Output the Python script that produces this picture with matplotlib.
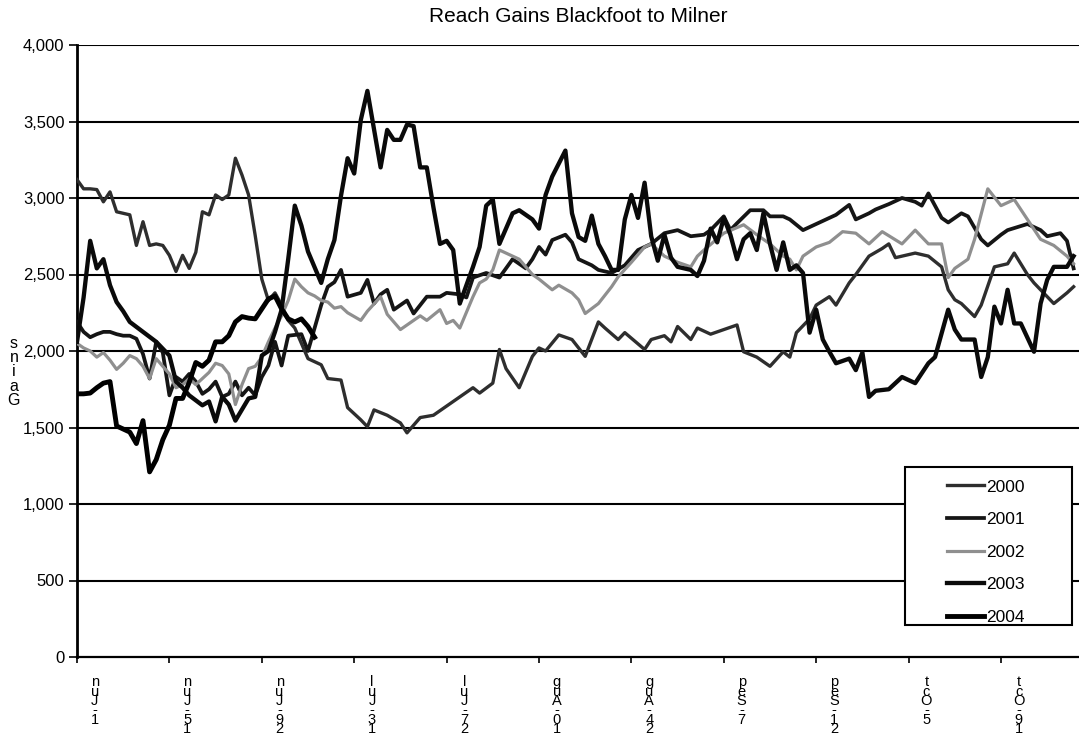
import matplotlib
matplotlib.use("Agg")
import matplotlib.pyplot as plt
from matplotlib.patches import Rectangle
import matplotlib.transforms as mtransforms

plt.rcParams['font.family'] = ['Liberation Sans', 'DejaVu Sans']

TITLE = "Reach Gains Blackfoot to Milner"
YLABEL = "Gains"
tick_days = [0, 14, 28, 42, 56, 70, 84, 98, 112, 126, 140]
tick_labels = ["1-Jun", "15-Jun", "29-Jun", "13-Jul", "27-Jul", "10-Aug",
               "24-Aug", "7-Sep", "21-Sep", "5-Oct", "19-Oct"]
y_ticks = [0, 500, 1000, 1500, 2000, 2500, 3000, 3500, 4000]

# day index from June 1 and values
days_2000 = [0,1,2,3,4,5,6,7,8,9,10,11,12,13,14,15,16,17,18,19,20,21,22,23,24,25,26,27,28,29,30,31,32,33,34,35,36,37,38,40,41,43,44,45,47,49,50,52,54,56,58,60,61,63,64,65,67,69,70,71,73,75,77,79,80,82,83,86,87,89,90,91,93,94,96,98,100,101,103,105,107,108,109,111,112,114,115,117,118,120,122,123,124,127,129,131,132,133,134,136,137,139,141,142,144,145,146,148,150,151]
vals_2000 = [3120,3060,3060,3055,2975,3040,2910,2900,2890,2690,2845,2690,2700,2690,2625,2520,2625,2540,2645,2910,2890,3020,2990,3020,3260,3150,3020,2755,2470,2330,2380,2300,2200,2150,2050,1950,1930,1910,1820,1810,1630,1550,1505,1615,1580,1530,1465,1565,1580,1640,1700,1760,1725,1790,2010,1885,1760,1965,2020,2000,2105,2075,1965,2190,2150,2075,2120,2010,2075,2100,2060,2160,2075,2150,2110,2140,2170,1995,1960,1900,1995,1960,2120,2210,2300,2355,2300,2445,2500,2620,2670,2700,2610,2640,2620,2550,2400,2335,2310,2225,2300,2550,2570,2640,2500,2445,2400,2310,2380,2420]

days_2001 = [0,1,2,3,4,5,6,7,8,9,10,11,12,13,14,15,16,17,18,19,20,21,22,23,24,25,26,27,28,29,30,31,32,34,35,36,37,38,39,40,41,43,44,45,46,47,48,50,51,53,55,56,58,59,60,62,64,65,66,68,69,70,71,72,74,75,76,78,79,81,83,85,87,89,91,93,95,96,98,99,100,102,104,105,107,108,110,111,113,115,117,118,120,121,123,125,127,128,129,131,132,134,135,137,138,140,141,144,146,147,149,150,151]
vals_2001 = [2190,2125,2090,2110,2125,2125,2110,2100,2100,2080,1980,1820,2060,1990,1710,1830,1800,1850,1800,1720,1750,1800,1700,1720,1800,1710,1760,1710,1830,1905,2060,1905,2100,2110,2000,2150,2300,2420,2450,2530,2355,2380,2465,2310,2370,2400,2270,2330,2245,2355,2355,2380,2370,2350,2480,2510,2480,2540,2600,2540,2600,2680,2630,2725,2760,2710,2600,2560,2530,2510,2560,2660,2700,2770,2790,2750,2760,2790,2880,2790,2835,2920,2920,2880,2880,2860,2790,2810,2850,2890,2955,2860,2900,2925,2960,3000,2975,2950,3030,2870,2840,2900,2880,2730,2690,2760,2790,2830,2790,2750,2770,2720,2540]

days_2002 = [0,1,2,3,4,5,6,7,8,9,10,11,12,13,14,15,16,17,18,19,20,21,22,23,24,25,26,27,28,29,30,31,32,33,34,35,36,37,38,39,40,41,43,44,46,47,48,49,51,52,53,55,56,57,58,60,61,62,63,64,66,67,68,69,70,72,73,75,76,77,79,81,82,84,86,87,89,91,93,94,95,98,101,103,105,107,108,109,110,112,114,116,118,120,122,125,127,129,131,132,133,135,136,138,140,142,144,146,148,150,151]
vals_2002 = [2050,2020,2000,1960,1990,1940,1880,1920,1970,1950,1900,1820,1950,1900,1850,1760,1780,1820,1780,1820,1860,1920,1905,1850,1650,1780,1885,1900,1960,2060,2150,2230,2330,2470,2420,2380,2360,2330,2320,2280,2290,2250,2200,2260,2355,2240,2190,2140,2200,2230,2200,2270,2180,2200,2150,2355,2445,2470,2530,2660,2620,2600,2550,2500,2470,2400,2430,2380,2335,2245,2310,2420,2485,2580,2680,2700,2620,2580,2550,2620,2660,2770,2825,2760,2700,2620,2600,2530,2620,2680,2710,2780,2770,2700,2780,2700,2790,2700,2700,2480,2540,2600,2730,3060,2950,2990,2860,2730,2690,2620,2570]

days_2003 = [0,1,2,3,4,5,6,7,8,10,12,14,15,16,17,19,20,21,22,23,24,26,27,28,29,30,31,32,33,34,35,37,38,39,40,41,42,43,44,46,47,48,49,50,51,52,53,54,55,56,57,58,60,61,62,63,64,66,67,69,70,71,72,74,75,76,77,78,79,80,81,82,83,84,85,86,87,88,89,90,91,93,94,95,96,97,98,99,100,101,102,103,104,105,106,107,108,109,110,111,112,113,114,115,117,118,119,120,121,123,125,127,129,130,132,133,134,136,137,138,139,140,141,142,143,145,146,147,148,150,151]
vals_2003 = [2060,2350,2720,2540,2600,2430,2320,2260,2190,2125,2060,1970,1800,1760,1710,1645,1670,1540,1700,1650,1545,1690,1700,1970,2000,2125,2270,2600,2950,2820,2650,2445,2600,2725,3015,3260,3160,3510,3700,3200,3445,3380,3380,3480,3470,3200,3200,2940,2700,2720,2660,2310,2550,2680,2950,2990,2700,2900,2920,2860,2800,3020,3140,3310,2900,2745,2720,2885,2700,2620,2530,2530,2860,3020,2870,3100,2750,2590,2760,2610,2550,2530,2490,2590,2800,2710,2870,2760,2600,2730,2770,2660,2900,2700,2530,2710,2530,2560,2510,2120,2270,2075,1995,1920,1950,1875,1990,1700,1740,1750,1830,1790,1920,1960,2270,2140,2075,2075,1830,1960,2290,2180,2400,2180,2180,1995,2310,2465,2550,2550,2620]

days_2004 = [0,1,2,3,4,5,6,7,8,9,10,11,12,13,14,15,16,17,18,19,20,21,22,23,24,25,26,27,28,29,30,31,32,33,34,35,36]
vals_2004 = [1720,1720,1725,1760,1790,1800,1510,1490,1470,1395,1545,1210,1290,1420,1515,1690,1690,1795,1925,1900,1940,2060,2060,2100,2190,2225,2215,2210,2275,2340,2360,2275,2210,2190,2210,2160,2090]

series = [
    ("2000", days_2000, vals_2000, "#2e2e2e", 2.4),
    ("2001", days_2001, vals_2001, "#151515", 2.7),
    ("2002", days_2002, vals_2002, "#8f8f8f", 2.3),
    ("2003", days_2003, vals_2003, "#0a0a0a", 3.1),
    ("2004", days_2004, vals_2004, "#000000", 3.5),
]

W, H = 1079, 738
fig = plt.figure(figsize=(W / 100, H / 100), dpi=100)
ax_l, ax_r, ax_t, ax_b = 77, 1079, 45, 657
ax = fig.add_axes([ax_l / W, 1 - ax_b / H, (ax_r - ax_l) / W, (ax_b - ax_t) / H])

px_per_day = 6.6
ax.set_xlim(0, (ax_r - ax_l) / px_per_day)
ax.set_ylim(0, 4000)

for v in y_ticks[1:]:
    ax.axhline(v, color="black", lw=1.5, zorder=1)

handles = []
for name, d, v, c, lw in series:
    h, = ax.plot(d, v, color=c, lw=lw, solid_joinstyle="round", zorder=3, label=name)
    handles.append(h)

ax.set_yticks(y_ticks)
ax.set_yticklabels([f"{t:,}" for t in y_ticks], fontsize=12)
ax.tick_params(axis="y", length=6, width=1.2, pad=3, direction="out")
ax.set_xticks(tick_days)
ax.set_xticklabels([])
ax.tick_params(axis="x", length=4, width=1.2, direction="out")

for s in ["top", "right"]:
    ax.spines[s].set_visible(False)
ax.spines["left"].set_linewidth(2.0)
ax.spines["bottom"].set_linewidth(1.6)

trans = mtransforms.blended_transform_factory(ax.transData, ax.transAxes)
for d, lab in zip(tick_days, tick_labels):
    ax.text(d + 2.7, -0.030, "\n".join(reversed(lab)), transform=trans,
            ha="center", va="top", fontsize=10.5, linespacing=0.58)

fig.text(14 / W, 1 - 372 / H, "\n".join(reversed(YLABEL)), ha="center", va="center",
         fontsize=11.5, linespacing=0.92)

fig.text(578 / W, 1 - 17 / H, TITLE, ha="center", va="center", fontsize=15)

# legend box
bx0, bx1, by0, by1 = 905, 1072, 467, 625
rect = Rectangle(((bx0 - ax_l) / (ax_r - ax_l), (ax_b - by1) / (ax_b - ax_t)),
                 (bx1 - bx0) / (ax_r - ax_l), (by1 - by0) / (ax_b - ax_t),
                 transform=ax.transAxes, facecolor="white", edgecolor="black",
                 lw=1.5, zorder=5)
ax.add_patch(rect)
leg = ax.legend(handles=handles, loc="center",
                bbox_to_anchor=((986 - ax_l) / (ax_r - ax_l), (ax_b - 552) / (ax_b - ax_t)),
                frameon=False, fontsize=12.5, handlelength=2.1, handletextpad=0.15,
                labelspacing=1.0)
leg.set_zorder(6)

fig.savefig("out.png", dpi=100)
